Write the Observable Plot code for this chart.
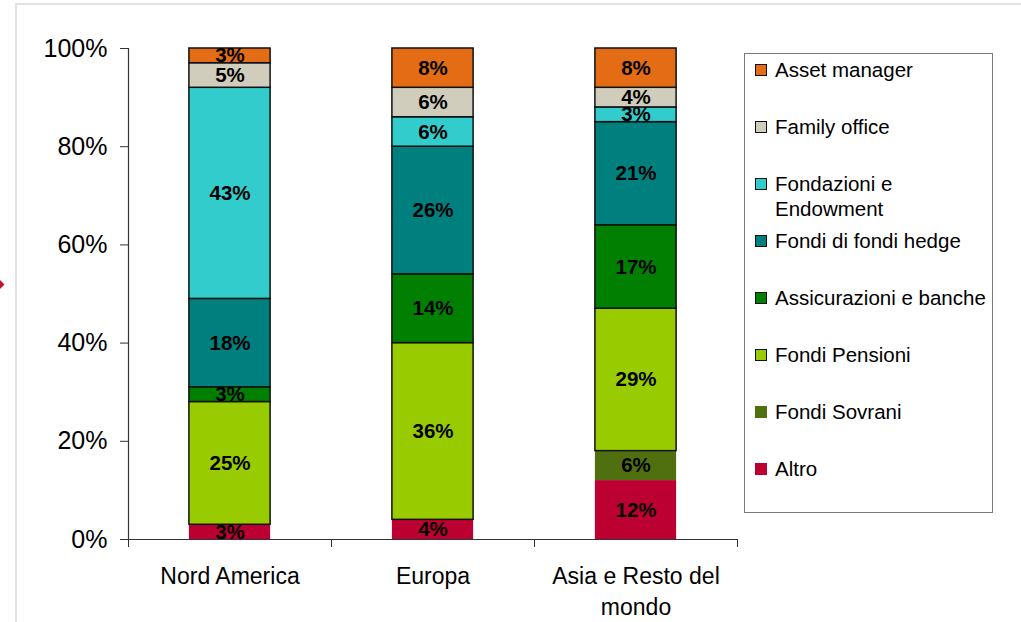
<!DOCTYPE html>
<html>
<head>
<meta charset="utf-8">
<script src="https://cdn.jsdelivr.net/npm/d3@7"></script>
<script src="https://cdn.jsdelivr.net/npm/@observablehq/plot@0.6"></script>
<style>
html, body { margin: 0; padding: 0; overflow: hidden; background: #fff; width: 1021px; height: 622px; position: relative; font-family: "Liberation Sans", Arial, sans-serif; }
#frame { position: absolute; left: 15px; top: 3px; width: 1100px; height: 700px; border-left: 2px solid #e2e2e2; border-top: 2px solid #e2e2e2; }
#arrow { position: absolute; left: -4px; top: 281px; width: 7px; height: 7px; background: #c8102e; transform: rotate(45deg); }
#chart { position: absolute; left: 0; top: 0; }
#legend { position: absolute; left: 744px; top: 53px; width: 249px; height: 460px; border: 1.5px solid #7a7a7a; box-sizing: border-box; }
.item { position: absolute; left: 10px; display: flex; align-items: flex-start; font-size: 20.5px; line-height: 25px; color: #000; white-space: nowrap; }
.sw { width: 10px; height: 10px; margin-top: 7px; margin-right: 8px; flex: none; }
</style>
</head>
<body>
<div id="frame"></div>
<div id="arrow"></div>
<div id="chart"></div>
<div id="legend"></div>
<script>
const regions = ["Nord America", "Europa", "Asia e Resto del mondo"];
const regionLabels = ["Nord America", "Europa", "Asia e Resto del\nmondo"];
const types = ["Altro", "Fondi Sovrani", "Fondi Pensioni", "Assicurazioni e banche", "Fondi di fondi hedge", "Fondazioni e Endowment", "Family office", "Asset manager"];
const legendLabels = ["Altro", "Fondi Sovrani", "Fondi Pensioni", "Assicurazioni e banche", "Fondi di fondi hedge", "Fondazioni e<br>Endowment", "Family office", "Asset manager"];
const nordAmerica = [3, 0, 25, 3, 18, 43, 5, 3];
const europa = [4, 0, 36, 14, 26, 6, 6, 8];
const asia = [12, 6, 29, 17, 21, 3, 4, 8];
const colors = ["#BC0032", "#50700F", "#99CC00", "#007F00", "#007F7F", "#33CCCC", "#D0CDBD", "#E36C15"];
const outlined = [false, false, true, true, true, true, true, true];
const yTicks = [0, 20, 40, 60, 80, 100];

const series = [nordAmerica, europa, asia];
const data = [];
series.forEach((vals, i) => {
  vals.forEach((v, k) => {
    if (v > 0) data.push({i, region: regions[i], type: types[k], k, value: v});
  });
});

const plot = Plot.plot({
  width: 1021,
  height: 622,
  marginLeft: 128,
  marginRight: 284,
  marginTop: 48,
  marginBottom: 83,
  style: {fontFamily: "'Liberation Sans', Arial, sans-serif", color: "#000", background: "transparent", overflow: "visible"},
  x: {domain: [0, 3], label: null},
  y: {domain: [0, 100], label: null},
  color: {type: "identity"},
  marks: [
    Plot.rect(data, Plot.stackY({
      x1: d => d.i + 0.3,
      x2: d => d.i + 0.7,
      y: "value",
      z: "type",
      fill: d => colors[d.k],
      stroke: d => outlined[d.k] ? "#111" : "none",
      strokeWidth: 1.5
    })),
    Plot.text(data, Plot.stackY({
      x: d => d.i + 0.5,
      y: "value",
      z: "type",
      text: d => d.value + "%",
      fill: "#000",
      fontWeight: "bold",
      fontSize: 20.5
    })),
    Plot.ruleY([0], {stroke: "#333", strokeWidth: 1.2}),
    Plot.ruleX([0], {stroke: "#333", strokeWidth: 1.2}),
    Plot.axisY({ticks: yTicks, tickFormat: d => d + "%", tickSize: 8, tickPadding: 13, fontSize: 25, stroke: "#333", label: null}),
    Plot.axisX({ticks: [0, 1, 2, 3], tickFormat: () => "", tickSize: 8, stroke: "#333", label: null}),
    Plot.axisX({ticks: [0.5, 1.5, 2.5], tickFormat: d => regionLabels[Math.floor(d)], tickSize: 0, tickPadding: 22, fontSize: 23, lineHeight: 1.35, label: null})
  ]
});
document.getElementById("chart").appendChild(plot);

const legend = document.getElementById("legend");
const order = types.map((t, k) => k).reverse();
order.forEach((k, row) => {
  const item = document.createElement("div");
  item.className = "item";
  item.style.top = (3 + row * 57) + "px";
  const sw = document.createElement("span");
  sw.className = "sw";
  sw.style.background = colors[k];
  sw.style.border = outlined[k] ? "1px solid #111" : "1px solid " + colors[k];
  const label = document.createElement("span");
  label.innerHTML = legendLabels[k];
  item.appendChild(sw);
  item.appendChild(label);
  legend.appendChild(item);
});
</script>
</body>
</html>
